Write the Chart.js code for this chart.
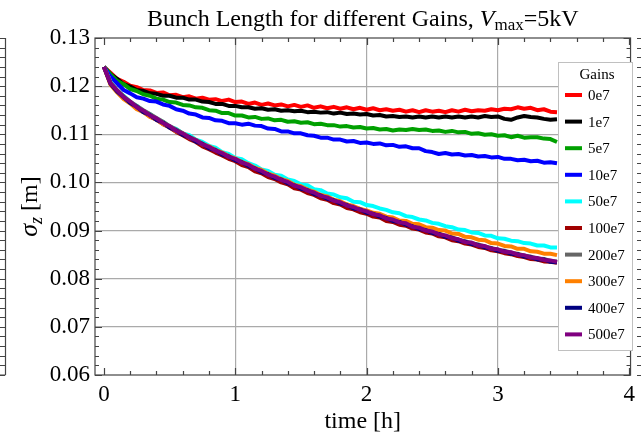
<!DOCTYPE html>
<html>
<head>
<meta charset="utf-8">
<script src="https://cdn.jsdelivr.net/npm/chart.js@4/dist/chart.umd.min.js"></script>
<style>
  html, body { margin: 0; padding: 0; background: #fff; }
  canvas { display: block; }
</style>
</head>
<body>
<canvas id="c" width="641" height="439"></canvas>
<script>
// sigma_z vs time for different gains
const times = [0,0.05,0.1,0.15,0.2,0.25,0.3,0.35,0.4,0.45,0.5,0.55,0.6,0.65,0.7,0.75,0.8,0.85,0.9,0.95,
  1,1.05,1.1,1.15,1.2,1.25,1.3,1.35,1.4,1.45,1.5,1.55,1.6,1.65,1.7,1.75,1.8,1.85,1.9,1.95,
  2,2.05,2.1,2.15,2.2,2.25,2.3,2.35,2.4,2.45,2.5,2.55,2.6,2.65,2.7,2.75,2.8,2.85,2.9,2.95,
  3,3.05,3.1,3.15,3.2,3.25,3.3,3.35,3.4,3.45];

const gains = ['0e7','1e7','5e7','10e7','50e7','100e7','200e7','300e7','400e7','500e7'];
const colors = ['#ff0000','#000000','#00a000','#0000ff','#00ffff','#a00000','#666666','#ff8000','#000080','#800080'];

const g0 = [
  .1240,.1228,.1215,.1209,.1201,.1198,.1192,.1191,.1186,.1187,
  .1181,.1182,.1177,.1179,.1174,.1176,.1172,.1173,.1169,.1172,
  .1167,.1168,.1163,.1166,.1161,.1164,.1160,.1162,.1158,.1161,
  .1157,.1160,.1155,.1158,.1154,.1157,.1153,.1156,.1152,.1155,
  .1151,.1154,.1150,.1152,.1149,.1151,.1147,.1150,.1146,.1150,
  .1147,.1149,.1146,.1150,.1147,.1151,.1148,.1150,.1149,.1152,
  .1150,.1153,.1152,.1156,.1153,.1155,.1150,.1152,.1147,.1146];
const g1 = [
  .1240,.1225,.1215,.1204,.1199,.1192,.1190,.1185,.1184,.1180,
  .1180,.1176,.1176,.1172,.1172,.1168,.1167,.1163,.1163,.1159,
  .1159,.1156,.1156,.1153,.1154,.1151,.1152,.1149,.1150,.1148,
  .1149,.1146,.1147,.1145,.1146,.1143,.1145,.1142,.1143,.1141,
  .1142,.1139,.1140,.1137,.1138,.1136,.1137,.1135,.1137,.1135,
  .1137,.1135,.1137,.1135,.1137,.1135,.1137,.1135,.1138,.1136,
  .1137,.1132,.1130,.1135,.1138,.1136,.1135,.1132,.1130,.1131];
const g5 = [
  .1240,.1225,.1211,.1204,.1194,.1190,.1183,.1180,.1174,.1172,
  .1167,.1166,.1161,.1160,.1156,.1155,.1150,.1149,.1144,.1144,
  .1139,.1139,.1135,.1136,.1132,.1133,.1129,.1130,.1126,.1127,
  .1124,.1125,.1121,.1122,.1119,.1119,.1116,.1117,.1114,.1115,
  .1112,.1113,.1110,.1111,.1108,.1110,.1109,.1111,.1109,.1110,
  .1107,.1108,.1105,.1107,.1104,.1105,.1101,.1102,.1099,.1100,
  .1097,.1098,.1094,.1097,.1093,.1094,.1094,.1091,.1090,.1084];
const g10 = [
  .1240,.1220,.1206,.1192,.1185,.1177,.1174,.1169,.1168,.1162,
  .1159,.1152,.1149,.1143,.1141,.1135,.1134,.1129,.1128,.1123,
  .1123,.1120,.1122,.1118,.1117,.1112,.1111,.1106,.1106,.1102,
  .1102,.1098,.1097,.1093,.1093,.1089,.1089,.1085,.1086,.1082,
  .1083,.1080,.1081,.1077,.1078,.1074,.1075,.1071,.1071,.1065,
  .1063,.1059,.1061,.1058,.1059,.1056,.1057,.1054,.1055,.1052,
  .1053,.1049,.1049,.1046,.1047,.1044,.1045,.1041,.1042,.1040];
const g50 = [
  .1240,.1209,.1190,.1180,.1167,.1159,.1148,.1142,.1132,.1126,
  .1116,.1111,.1102,.1098,.1089,.1084,.1076,.1072,.1063,.1059,
  .1051,.1048,.1040,.1035,.1027,.1024,.1016,.1014,.1006,.1003,
  .0996,.0994,.0986,.0984,.0977,.0975,.0969,.0967,.0960,.0959,
  .0953,.0951,.0946,.0943,.0938,.0936,.0930,.0928,.0923,.0921,
  .0916,.0914,.0909,.0907,.0902,.0901,.0896,.0895,.0890,.0889,
  .0884,.0883,.0879,.0878,.0874,.0873,.0869,.0869,.0865,.0865];
const g100 = [
  .1240,.1205,.1189,.1176,.1166,.1155,.1147,.1137,.1130,.1121,
  .1114,.1105,.1098,.1090,.1084,.1075,.1069,.1062,.1056,.1049,
  .1044,.1036,.1032,.1023,.1019,.1011,.1007,.1000,.0996,.0988,
  .0985,.0978,.0974,.0967,.0964,.0957,.0954,.0947,.0944,.0938,
  .0935,.0929,.0927,.0920,.0918,.0912,.0910,.0904,.0902,.0896,
  .0894,.0888,.0886,.0880,.0878,.0873,.0871,.0866,.0864,.0859,
  .0857,.0853,.0851,.0847,.0845,.0841,.0840,.0836,.0835,.0833];
const g200 = [
  .1240,.1208,.1192,.1179,.1168,.1159,.1150,.1142,.1134,.1126,
  .1117,.1110,.1102,.1095,.1088,.1081,.1074,.1068,.1061,.1055,
  .1048,.1043,.1036,.1030,.1023,.1018,.1011,.1007,.1000,.0995,
  .0989,.0985,.0978,.0974,.0968,.0964,.0958,.0954,.0948,.0945,
  .0939,.0936,.0930,.0927,.0922,.0919,.0913,.0910,.0905,.0902,
  .0897,.0894,.0889,.0886,.0881,.0878,.0874,.0871,.0867,.0864,
  .0860,.0858,.0854,.0852,.0848,.0846,.0842,.0841,.0837,.0836];
const g300 = [
  .1240,.1203,.1187,.1173,.1164,.1152,.1146,.1136,.1131,.1121,
  .1116,.1106,.1102,.1093,.1088,.1079,.1075,.1067,.1062,.1054,
  .1050,.1042,.1038,.1030,.1026,.1018,.1014,.1007,.1003,.0995,
  .0992,.0985,.0981,.0974,.0971,.0964,.0961,.0954,.0951,.0945,
  .0942,.0937,.0935,.0929,.0927,.0921,.0920,.0914,.0913,.0907,
  .0906,.0901,.0900,.0894,.0893,.0887,.0886,.0881,.0880,.0874,
  .0873,.0868,.0867,.0862,.0862,.0857,.0856,.0852,.0852,.0849];
const g400 = [
  .1240,.1205,.1189,.1177,.1165,.1157,.1146,.1140,.1130,.1124,
  .1114,.1108,.1099,.1094,.1085,.1080,.1071,.1067,.1058,.1054,
  .1046,.1042,.1034,.1029,.1021,.1017,.1009,.1006,.0998,.0994,
  .0987,.0984,.0976,.0973,.0966,.0963,.0956,.0953,.0946,.0944,
  .0937,.0935,.0929,.0926,.0920,.0918,.0912,.0909,.0903,.0901,
  .0895,.0893,.0887,.0885,.0879,.0877,.0872,.0870,.0865,.0863,
  .0858,.0857,.0852,.0851,.0846,.0845,.0840,.0840,.0835,.0834];
const g500 = [
  .1240,.1206,.1191,.1177,.1168,.1156,.1149,.1139,.1133,.1123,
  .1117,.1107,.1102,.1093,.1088,.1079,.1074,.1066,.1061,.1053,
  .1049,.1041,.1037,.1028,.1024,.1016,.1012,.1005,.1001,.0993,
  .0990,.0983,.0979,.0972,.0969,.0962,.0959,.0952,.0949,.0943,
  .0940,.0934,.0932,.0925,.0923,.0917,.0915,.0908,.0906,.0900,
  .0898,.0892,.0890,.0884,.0882,.0876,.0875,.0869,.0868,.0862,
  .0861,.0856,.0855,.0850,.0849,.0844,.0843,.0839,.0838,.0835];

const series = [g0, g1, g5, g10, g50, g100, g200, g300, g400, g500];

const xTicks = [0, 1, 2, 3, 4];
const yTicks = [0.06, 0.07, 0.08, 0.09, 0.10, 0.11, 0.12, 0.13];

const SERIF = '"Liberation Serif", "DejaVu Serif", serif';

// text with mixed fonts (subscripts, italics)
function richWidth(ctx, parts) {
  let w = 0;
  parts.forEach(p => { ctx.font = p.font; w += ctx.measureText(p.text).width; });
  return w;
}
function drawRich(ctx, parts, x, y) {
  let cx = x - richWidth(ctx, parts) / 2;
  parts.forEach(p => {
    ctx.font = p.font;
    ctx.fillText(p.text, cx, y + (p.dy || 0));
    cx += ctx.measureText(p.text).width;
  });
}

const decor = {
  id: 'decor',
  afterDraw(chart) {
    const ctx = chart.ctx;
    const { left, right, top, bottom } = chart.chartArea;
    const xs = chart.scales.x, ys = chart.scales.y;
    ctx.save();

    // frame + inward ticks
    ctx.strokeStyle = '#444';
    ctx.lineWidth = 1.2;
    ctx.strokeRect(left, top, right - left, bottom - top);
    ctx.beginPath();
    for (let i = 0; i <= 20; i++) {
      const v = i * 0.2;
      const px = Math.round(xs.getPixelForValue(v)) + 0.5;
      const len = i % 5 === 0 ? 7 : 4;
      ctx.moveTo(px, bottom); ctx.lineTo(px, bottom - len);
      ctx.moveTo(px, top); ctx.lineTo(px, top + len);
    }
    for (let i = 0; i <= 35; i++) {
      const v = 0.06 + i * 0.002;
      const py = Math.round(ys.getPixelForValue(v)) + 0.5;
      const len = i % 5 === 0 ? 7 : 4;
      ctx.moveTo(left, py); ctx.lineTo(left + len, py);
      ctx.moveTo(right, py); ctx.lineTo(right - len, py);
      // neighbouring panels at the picture edges
      ctx.moveTo(0, py); ctx.lineTo(5, py);
      ctx.moveTo(637, py); ctx.lineTo(641, py);
    }
    ctx.moveTo(5.5, top); ctx.lineTo(5.5, bottom);
    ctx.moveTo(0, bottom); ctx.lineTo(5.5, bottom);
    ctx.stroke();

    ctx.fillStyle = '#000';
    ctx.textBaseline = 'alphabetic';

    // title
    drawRich(ctx, [
      { text: 'Bunch Length for different Gains, ', font: '24px ' + SERIF },
      { text: 'V', font: 'italic 24px ' + SERIF },
      { text: 'max', font: '17px ' + SERIF, dy: 4 },
      { text: '=5kV', font: '24px ' + SERIF }
    ], (left + right) / 2, 26);

    // x label
    drawRich(ctx, [{ text: 'time [h]', font: '24px ' + SERIF }], (left + right) / 2, 428);

    // y label
    ctx.save();
    ctx.translate(37, (top + bottom) / 2);
    ctx.rotate(-Math.PI / 2);
    drawRich(ctx, [
      { text: 'σ', font: 'italic 26px ' + SERIF },
      { text: 'z', font: 'italic 18px ' + SERIF, dy: 5 },
      { text: ' [m]', font: '24px ' + SERIF }
    ], 0, 0);
    ctx.restore();

    // legend
    const lx = 558, ly = 62, lw = 74, lh = 288;
    ctx.fillStyle = '#fff';
    ctx.fillRect(lx, ly, lw, lh);
    ctx.strokeStyle = '#c0c0c0';
    ctx.lineWidth = 1;
    ctx.strokeRect(lx + 0.5, ly + 0.5, lw, lh);
    ctx.fillStyle = '#000';
    ctx.font = '15px ' + SERIF;
    ctx.textAlign = 'center';
    ctx.textBaseline = 'middle';
    ctx.fillText('Gains', lx + 39, ly + 13);
    ctx.textAlign = 'left';
    gains.forEach((g, i) => {
      const yy = ly + 33 + i * 26.6;
      ctx.fillStyle = colors[i];
      ctx.fillRect(lx + 7, yy - 2, 17, 4);
      ctx.fillStyle = '#000';
      ctx.fillText(g, lx + 30, yy + 1);
    });

    ctx.restore();
  }
};

new Chart(document.getElementById('c'), {
  type: 'line',
  data: {
    datasets: series.map((vals, i) => ({
      label: gains[i],
      data: times.map((t, k) => ({ x: t, y: vals[k] })),
      borderColor: colors[i],
      borderWidth: 4,
      borderJoinStyle: 'round',
      pointRadius: 0,
      tension: 0,
      fill: false,
      order: series.length - i
    }))
  },
  options: {
    responsive: false,
    animation: false,
    devicePixelRatio: 1,
    layout: { padding: { left: 0, right: 9, top: 38, bottom: 0 } },
    plugins: { legend: { display: false }, title: { display: false }, tooltip: { enabled: false } },
    scales: {
      x: {
        type: 'linear',
        min: -0.068,
        max: 4.01,
        afterBuildTicks: s => { s.ticks = xTicks.map(v => ({ value: v })); },
        afterFit: s => { s.height = 64; },
        border: { display: false },
        grid: {
          drawTicks: false,
          lineWidth: 1.2,
          color: c => (c.tick && (c.tick.value === 0 || c.tick.value === 4)) ? 'rgba(0,0,0,0)' : '#aaaaaa'
        },
        ticks: {
          color: '#000',
          padding: 6,
          maxRotation: 0,
          font: { family: SERIF, size: 23 },
          callback: v => String(v)
        }
      },
      y: {
        min: 0.06,
        max: 0.13,
        afterBuildTicks: s => { s.ticks = yTicks.map(v => ({ value: v })); },
        afterFit: s => { s.width = 95; },
        border: { display: false },
        grid: {
          drawTicks: false,
          lineWidth: 1.2,
          color: c => (c.tick && (Math.abs(c.tick.value - 0.06) < 1e-6 || Math.abs(c.tick.value - 0.13) < 1e-6)) ? 'rgba(0,0,0,0)' : '#aaaaaa'
        },
        ticks: {
          color: '#000',
          padding: 5,
          font: { family: SERIF, size: 23 },
          callback: v => v.toFixed(2)
        }
      }
    }
  },
  plugins: [decor]
});
</script>
</body>
</html>
